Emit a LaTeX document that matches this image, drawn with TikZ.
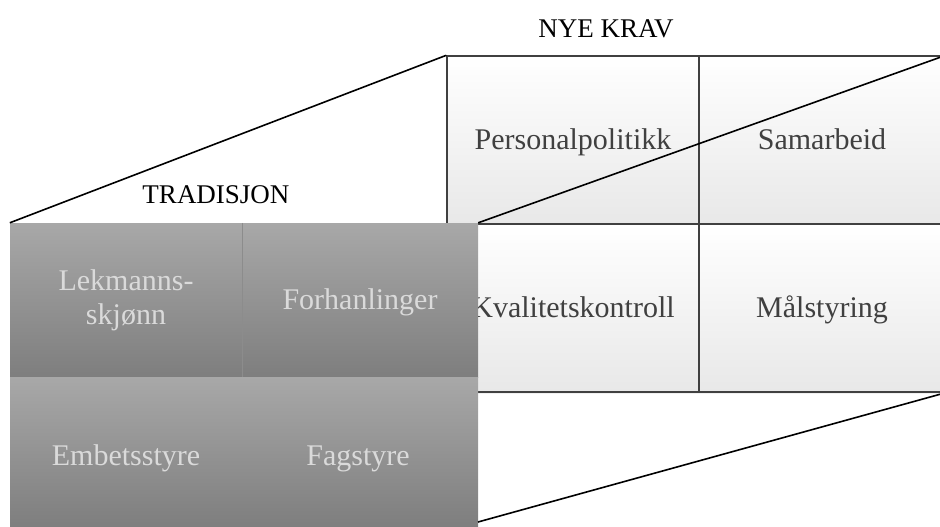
\documentclass[tikz,border=0pt]{standalone}
\usepackage{fontspec}
\setmainfont{Liberation Serif}
\usetikzlibrary{positioning,shadows}
\definecolor{gridline}{HTML}{404040}
\definecolor{celltext}{HTML}{404040}
\definecolor{darktop}{HTML}{A8A8A8}
\definecolor{darkbot}{HTML}{7E7E7E}
\definecolor{softtext}{HTML}{DADADA}
\tikzset{newcell/.style = {draw=gridline, line width=1.4pt, top color=white, bottom color=black!9,
                           minimum height=168pt, inner sep=0pt, text=celltext,
                           text height=20pt, text depth=2pt,
                           drop shadow={opacity=0.12, shadow xshift=2pt, shadow yshift=-2pt},
                           font=\fontsize{30}{34}\selectfont},
         oldcell/.style = {top color=darktop, bottom color=darkbot, inner sep=0pt,
                           text=softtext, align=center, font=\fontsize{30}{34}\selectfont},
         oldtext/.style = {text=softtext, text height=20pt, text depth=2pt,
                           font=\fontsize{30}{34}\selectfont},
         head/.style = {text=black, inner sep=0pt, font=\fontsize{27}{30}\selectfont},
         diag/.style = {draw=black, line width=1.6pt}}

\begin{document}
\begin{tikzpicture}[x=1pt, y=-1pt]
            \useasboundingbox (0,0) rectangle (940,527);
            \clip (0,0) rectangle (940,527);

            % nye krav
            \node[newcell, minimum width=252pt] (pers) at (573,140) {Personalpolitikk};
            \node[newcell, minimum width=246pt] (sam)  at (822,140) {Samarbeid};
            \node[newcell, minimum width=252pt] (kval) at (573,308) {Kvalitetskontroll};
            \node[newcell, minimum width=246pt] (mal)  at (822,308) {Målstyring};
            \node[head, anchor=base] (nye) at (606,38) {NYE KRAV};

            % tradisjon
            \node[oldcell, minimum width=232pt, minimum height=154pt] (lek)  at (126,300) {\raisebox{-3pt}{Lekmanns-}\\\raisebox{-3pt}{skjønn}};
            \node[oldcell, minimum width=236pt, minimum height=154pt,
                  text height=20pt, text depth=2pt] (forh) at (360,300) {Forhanlinger};
            \draw[black!45, line width=1.2pt] (lek.north east) -- (lek.south east);
            \node[oldcell, minimum width=468pt, minimum height=150pt] (old)  at (244,452) {};
            \node[oldtext] (emb) at (126,456) {Embetsstyre};
            \node[oldtext] (fag) at (358,456) {Fagstyre};
            \node[head, anchor=base] (trad) at (216,203) {TRADISJON};

            \coordinate (oldfoot) at (478,522);

            \draw[diag] (lek.north west) -- (pers.north west);
            \draw[diag] (forh.north east) -- (sam.north east);
            \draw[diag] (oldfoot) -- (mal.south east);
        \end{tikzpicture}
\end{document}
